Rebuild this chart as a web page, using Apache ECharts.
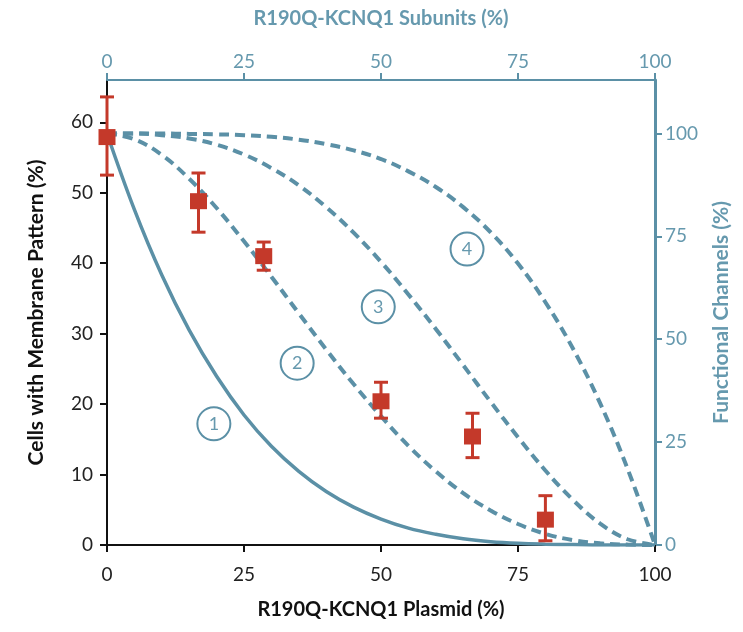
<!DOCTYPE html>
<html>
<head>
<meta charset="utf-8">
<script src="https://cdn.jsdelivr.net/npm/echarts@6/dist/echarts.min.js"></script>
<style>
  html, body { margin: 0; padding: 0; background: #fff; }
  #chart { width: 743px; height: 632px; }
</style>
</head>
<body>
<div id="chart"></div>
<script>
// Mutant subunit fraction (%) at which the model curves are sampled
const subunitPct = [0, 5, 10, 15, 20, 25, 30, 35, 40, 45, 50, 55, 60, 65, 70, 75, 80, 85, 90, 95, 100];

// Functional channels (%) for the four tetramer models
const curve1 = [100, 81.5, 65.6, 52.2, 41.0, 31.6, 24.0, 17.9, 13.0, 9.2, 6.3, 4.1, 2.6, 1.5, 0.8, 0.4, 0.2, 0.1, 0, 0, 0];
const curve2 = [100, 98.6, 94.8, 89.0, 81.9, 73.8, 65.2, 56.3, 47.5, 39.1, 31.3, 24.1, 17.9, 12.6, 8.4, 5.1, 2.7, 1.2, 0.4, 0.1, 0];
const curve3 = [100, 100, 99.6, 98.8, 97.3, 94.9, 91.6, 87.4, 82.1, 75.9, 68.8, 60.9, 52.5, 43.7, 34.8, 26.2, 18.1, 11.0, 5.2, 1.4, 0];
const curve4 = [100, 100, 100, 99.9, 99.8, 99.6, 99.2, 98.5, 97.4, 95.9, 93.8, 90.8, 87.0, 82.1, 76.0, 68.4, 59.0, 47.8, 34.4, 18.5, 0];

// Measured cells with membrane pattern (%) vs. plasmid fraction (%)
const plasmidPct = [0, 16.7, 28.6, 50, 66.7, 80];
const membraneMean = [57.9, 48.8, 41.0, 20.4, 15.4, 3.6];
const membraneLow = [52.5, 44.4, 39.0, 18.0, 12.4, 0.6];
const membraneHigh = [63.6, 52.8, 43.0, 23.1, 18.7, 7.0];

// Curve tags placed on the plot (x in %, y in left-axis units)
const tagNames = ['1', '2', '3', '4'];
const tagX = [19.5, 34.7, 49.5, 65.7];
const tagY = [17.2, 25.8, 33.8, 42.0];

// Axis tick values
const leftTicks = [0, 10, 20, 30, 40, 50, 60];
const rightTicks = [0, 25, 50, 75, 100];

const BLUE = '#5b90a6';
const BLUE_TEXT = '#6699ae';
const RED = '#c4392a';
const BLACK = '#111';
const FONT = 'Lato, "Open Sans", sans-serif';
const TICK_FONT = 19;

const pairs = (xs, ys) => xs.map((x, i) => [x, ys[i]]);

const curveSeries = (data, dashed) => ({
  type: 'line',
  xAxisIndex: 0,
  yAxisIndex: 1,
  data: pairs(subunitPct, data),
  smooth: 0.4,
  showSymbol: false,
  silent: true,
  z: 2,
  lineStyle: {
    color: BLUE,
    width: dashed ? 4 : 3.5,
    type: dashed ? [10, 6] : 'solid',
    cap: 'butt'
  }
});

const chart = echarts.init(document.getElementById('chart'), null, { renderer: 'canvas' });

chart.setOption({
  animation: false,
  backgroundColor: '#fff',
  grid: { left: 107, right: 88, top: 80, bottom: 87, containLabel: false },
  xAxis: [
    {
      type: 'value', position: 'bottom', min: 0, max: 100, interval: 25,
      name: 'R190Q-KCNQ1 Plasmid (%)', nameLocation: 'middle', nameGap: 55,
      nameTextStyle: { color: BLACK, fontSize: 20, fontWeight: 'bold', fontFamily: FONT },
      axisLine: { show: true, onZero: false, lineStyle: { color: BLACK, width: 2 } },
      axisTick: { show: true, inside: false, length: 7, lineStyle: { color: BLACK, width: 2 } },
      axisLabel: { color: '#222', fontSize: TICK_FONT, fontFamily: FONT, margin: 20 },
      splitLine: { show: false }
    },
    {
      type: 'value', position: 'top', min: 0, max: 100, interval: 25,
      name: 'R190Q-KCNQ1 Subunits (%)', nameLocation: 'middle', nameGap: 51,
      nameTextStyle: { color: BLUE_TEXT, fontSize: 20, fontWeight: 'bold', fontFamily: FONT },
      axisLine: { show: true, onZero: false, lineStyle: { color: BLUE, width: 2 } },
      axisTick: { show: true, inside: false, length: 7, lineStyle: { color: BLUE, width: 2 } },
      axisLabel: { color: BLUE_TEXT, fontSize: TICK_FONT, fontFamily: FONT, margin: 9 },
      splitLine: { show: false }
    }
  ],
  yAxis: [
    {
      type: 'value', position: 'left', min: 0, max: 66,
      name: 'Cells with Membrane Pattern (%)', nameLocation: 'middle', nameGap: 60, nameRotate: 90,
      nameTextStyle: { color: BLACK, fontSize: 21, fontWeight: 'bold', fontFamily: FONT },
      axisLine: { show: true, onZero: false, lineStyle: { color: BLACK, width: 2 } },
      axisTick: { show: true, inside: false, length: 7, customValues: leftTicks, lineStyle: { color: BLACK, width: 2 } },
      axisLabel: { color: '#222', fontSize: TICK_FONT, fontFamily: FONT, margin: 14, customValues: leftTicks },
      splitLine: { show: false }
    },
    {
      type: 'value', position: 'right', min: 0, max: 113,
      name: 'Functional Channels (%)', nameLocation: 'middle', nameGap: 56, nameRotate: 90,
      nameTextStyle: { color: BLUE_TEXT, fontSize: 21, fontWeight: 'bold', fontFamily: FONT },
      axisLine: { show: true, onZero: false, lineStyle: { color: BLUE, width: 3 } },
      axisTick: { show: true, inside: false, length: 7, customValues: rightTicks, lineStyle: { color: BLUE, width: 2 } },
      axisLabel: { color: BLUE_TEXT, fontSize: TICK_FONT, fontFamily: FONT, margin: 10, customValues: rightTicks },
      splitLine: { show: false }
    }
  ],
  series: [
    curveSeries(curve1, false),
    curveSeries(curve2, true),
    curveSeries(curve3, true),
    curveSeries(curve4, true),
    {
      // curve tags
      type: 'scatter',
      xAxisIndex: 0, yAxisIndex: 0,
      data: tagNames.map((n, i) => ({ name: n, value: [tagX[i], tagY[i]] })),
      symbol: 'circle', symbolSize: 33,
      itemStyle: { color: '#fff', borderColor: BLUE, borderWidth: 2, opacity: 1 },
      label: { show: true, position: 'inside', formatter: '{b}', color: BLUE_TEXT, fontSize: 18, fontFamily: FONT },
      silent: true, z: 3
    },
    {
      // error bars
      type: 'custom',
      xAxisIndex: 0, yAxisIndex: 0,
      data: plasmidPct.map((x, i) => [x, membraneLow[i], membraneHigh[i]]),
      encode: { x: 0, y: [1, 2] },
      clip: false,
      z: 4,
      renderItem: (params, api) => {
        const x = api.value(0);
        const top = api.coord([x, api.value(2)]);
        const bot = api.coord([x, api.value(1)]);
        const hw = 7;
        const style = { stroke: RED, lineWidth: 3 };
        return {
          type: 'group',
          children: [
            { type: 'line', shape: { x1: top[0], y1: top[1], x2: bot[0], y2: bot[1] }, style },
            { type: 'line', shape: { x1: top[0] - hw, y1: top[1], x2: top[0] + hw, y2: top[1] }, style },
            { type: 'line', shape: { x1: bot[0] - hw, y1: bot[1], x2: bot[0] + hw, y2: bot[1] }, style }
          ]
        };
      }
    },
    {
      // mean values
      type: 'scatter',
      xAxisIndex: 0, yAxisIndex: 0,
      data: pairs(plasmidPct, membraneMean),
      symbol: 'rect', symbolSize: [17, 16],
      itemStyle: { color: RED, opacity: 1 },
      clip: false,
      z: 5
    }
  ]
});
</script>
</body>
</html>
